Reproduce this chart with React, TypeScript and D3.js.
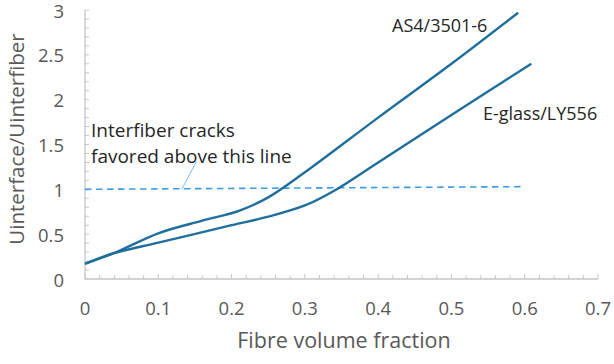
import React from "react";
import * as d3 from "d3";

const as4X = [0, 0.04, 0.1, 0.16, 0.21, 0.25, 0.3, 0.4, 0.5, 0.591];
const as4Y = [0.17, 0.29, 0.51, 0.65, 0.76, 0.91, 1.19, 1.8, 2.4, 2.97];
const egX = [0, 0.04, 0.1, 0.2, 0.25, 0.3, 0.34, 0.4, 0.5, 0.609];
const egY = [0.17, 0.29, 0.405, 0.6, 0.695, 0.82, 0.985, 1.3, 1.83, 2.4];
const thresholdX = [0, 0.6];
const thresholdY = [1.0, 1.03];
const leaderX = [0.152, 0.132];
const leaderY = [1.31, 1.0];
const xTicks = [0, 0.1, 0.2, 0.3, 0.4, 0.5, 0.6, 0.7];
const yTicks = [0, 0.5, 1, 1.5, 2, 2.5, 3];
const seriesLabels = ["AS4/3501-6", "E-glass/LY556"];
const noteLines = ["Interfiber cracks", "favored above this line"];
const xTitle = "Fibre volume fraction";
const yTitle = "Uinterface/Uinterfiber";

export default function App() {
  const W = 614, H = 364;
  const x = d3.scaleLinear().domain([0, 0.7]).range([85, 598]);
  const y = d3.scaleLinear().domain([0, 3]).range([279, 10]);
  const line = d3.line<[number, number]>().x(d => x(d[0])).y(d => y(d[1])).curve(d3.curveCatmullRom.alpha(0.5));
  const as4 = as4X.map((v, i) => [v, as4Y[i]] as [number, number]);
  const eg = egX.map((v, i) => [v, egY[i]] as [number, number]);
  const straight = d3.line<[number, number]>().x(d => x(d[0])).y(d => y(d[1]));
  const minorX = d3.range(0, 0.7001, 0.02);
  const minorY = d3.range(0, 3.0001, 0.1);
  const axisColor = "#c6c6c6";
  const textColor = "#595959";
  const font = "'Open Sans', sans-serif";
  return (
    <svg width={W} height={H} style={{ position: "absolute", left: 0, top: 0, background: "#fff" }} fontFamily={font}>
      <line x1={x(0)} x2={x(0)} y1={y(3)} y2={y(0)} stroke={axisColor} strokeWidth={1.3} />
      <line x1={x(0)} x2={x(0.7)} y1={y(0)} y2={y(0)} stroke={axisColor} strokeWidth={1.3} />
      {minorY.map((v, i) => (
        <line key={"ym" + i} x1={x(0)} x2={x(0) + 4} y1={y(v)} y2={y(v)} stroke={axisColor} strokeWidth={1} />
      ))}
      {minorX.map((v, i) => (
        <line key={"xm" + i} x1={x(v)} x2={x(v)} y1={y(0)} y2={y(0) - (i % 5 === 0 ? 5 : 4)} stroke={axisColor} strokeWidth={1} />
      ))}
      {yTicks.map(v => (
        <text key={"yt" + v} x={64} y={y(v) + 7.5} textAnchor="end" fontSize={18.5} fill={textColor}>{v}</text>
      ))}
      {xTicks.map(v => (
        <text key={"xt" + v} x={x(v)} y={315} textAnchor="middle" fontSize={18.5} fill={textColor}>{v}</text>
      ))}
      <text x={344} y={348} textAnchor="middle" fontSize={21.5} fill={textColor}>{xTitle}</text>
      <text transform={`translate(24,139) rotate(-90)`} textAnchor="middle" fontSize={20.5} fill={textColor}>{yTitle}</text>
      <path d={straight(thresholdX.map((v, i) => [v, thresholdY[i]] as [number, number])) || ""} stroke="#3d9be0" strokeWidth={1.6} strokeDasharray="6.5,4.5" fill="none" />
      <path d={straight(leaderX.map((v, i) => [v, leaderY[i]] as [number, number])) || ""} stroke="#7cc0ec" strokeWidth={1} fill="none" />
      <path d={line(as4) || ""} stroke="#1f6e9e" strokeWidth={2.4} fill="none" strokeLinejoin="round" />
      <path d={line(eg) || ""} stroke="#1f6e9e" strokeWidth={2.4} fill="none" strokeLinejoin="round" />
      <text x={392} y={32} fontSize={18} fill="#262626">{seriesLabels[0]}</text>
      <text x={483} y={120} fontSize={18} fill="#262626">{seriesLabels[1]}</text>
      <text x={91} y={137} fontSize={19} fill="#262626">{noteLines[0]}</text>
      <text x={91} y={163} fontSize={19} fill="#262626">{noteLines[1]}</text>
    </svg>
  );
}
